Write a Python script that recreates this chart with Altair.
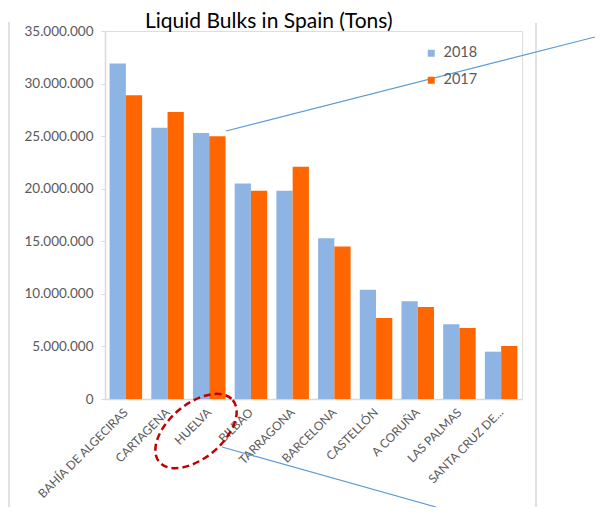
import altair as alt
import pandas as pd

ports = ["BAHÍA DE ALGECIRAS", "CARTAGENA", "HUELVA", "BILBAO", "TARRAGONA",
         "BARCELONA", "CASTELLÓN", "A CORUÑA", "LAS PALMAS", "SANTA CRUZ DE..."]
v2018 = [31900000, 25800000, 25300000, 20500000, 19800000,
         15300000, 10400000, 9300000, 7100000, 4500000]
v2017 = [28900000, 27300000, 25000000, 19800000, 22100000,
         14500000, 7700000, 8750000, 6750000, 5050000]
years = ["2018", "2017"]
colors = ["#8EB4E3", "#FF6600"]
y_ticks = [0, 5000000, 10000000, 15000000, 20000000, 25000000, 30000000, 35000000]
title_text = "Liquid Bulks in Spain (Tons)"

rows = []
for p, a, b in zip(ports, v2018, v2017):
    rows.append({"port": p, "year": "2018", "tons": a})
    rows.append({"port": p, "year": "2017", "tons": b})
df = pd.DataFrame(rows)

one = pd.DataFrame({"k": [0]})

W, H = 417, 368

bars = alt.Chart(df).mark_bar().encode(
    x=alt.X("port:N", sort=ports, title=None,
            scale=alt.Scale(paddingInner=0.22, paddingOuter=0.11),
            axis=alt.Axis(labelAngle=315, labelAlign="right", labelBaseline="middle",
                          labelFont="Lato", labelFontSize=12, labelColor="#595959",
                          labelPadding=11, ticks=False, domainColor="#D9D9D9",
                          domainWidth=1.5, labelLimit=300)),
    xOffset=alt.XOffset("year:N", sort=years, scale=alt.Scale(paddingInner=0, paddingOuter=0)),
    y=alt.Y("tons:Q", title=None,
            scale=alt.Scale(domain=[0, 35000000], nice=False),
            axis=alt.Axis(values=y_ticks, grid=False, labelFont="Lato", labelFontSize=13.5,
                          labelColor="#595959", tickColor="#D9D9D9", tickSize=4,
                          domainColor="#D9D9D9", domainWidth=1.5, labelPadding=8,
                          labelExpr="replace(format(datum.value, ','), /,/g, '.')")),
    color=alt.Color("year:N", sort=years,
                    scale=alt.Scale(domain=years, range=colors),
                    legend=alt.Legend(orient="none", legendX=319, legendY=15, title=None,
                                      symbolType="square", symbolSize=49,
                                      symbolStrokeWidth=0, labelFont="Lato",
                                      labelFontSize=14.5, labelColor="#595959",
                                      rowPadding=12, labelOffset=5)),
)

border_left = alt.Chart(one).mark_rule(color="#D9D9D9", strokeWidth=1.5).encode(
    x=alt.value(-96), y=alt.value(-9), y2=alt.value(476))
border_right = alt.Chart(one).mark_rule(color="#D9D9D9", strokeWidth=1.5).encode(
    x=alt.value(431), y=alt.value(-8), y2=alt.value(476))

line1 = alt.Chart(one).mark_rule(color="#5B9BD5", strokeWidth=1.2).encode(
    x=alt.value(121), y=alt.value(100), x2=alt.value(490), y2=alt.value(6))
line2 = alt.Chart(one).mark_rule(color="#5B9BD5", strokeWidth=1.2).encode(
    x=alt.value(117), y=alt.value(416), x2=alt.value(331), y2=alt.value(476))

ellipse_path = ("M 1 0 C 1 0.3107 0.5523 0.5625 0 0.5625 "
                "C -0.5523 0.5625 -1 0.3107 -1 0 "
                "C -1 -0.3107 -0.5523 -0.5625 0 -0.5625 "
                "C 0.5523 -0.5625 1 -0.3107 1 0 Z")
ellipse = alt.Chart(one).mark_point(
    shape=ellipse_path, size=9216, filled=False, stroke="#C00000",
    strokeWidth=2.5, strokeDash=[7, 4], angle=320, opacity=1
).encode(x=alt.value(91), y=alt.value(400))

chart = alt.layer(border_left, border_right, bars, line1, line2, ellipse).properties(
    width=W, height=H,
    title=alt.TitleParams(title_text, anchor="start", frame="group", dx=40, dy=28,
                          offset=0, baseline="alphabetic", font="Lato",
                          fontSize=21, fontWeight="normal", color="#000000"),
    autosize=alt.AutoSizeParams(type="none"),
    padding={"left": 97, "top": 23, "right": 73, "bottom": 108},
).configure_view(stroke=None).configure(background="white")

chart.save("out.html", embed_options={"renderer": "svg", "actions": False})
